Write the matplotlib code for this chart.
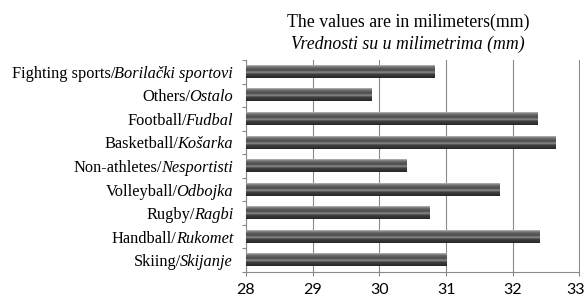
import numpy as np
import matplotlib
matplotlib.use("Agg")
import matplotlib.pyplot as plt
import matplotlib.transforms as mtransforms
from matplotlib.colors import LinearSegmentedColormap

labels_en = ["Fighting sports/", "Others/", "Football/", "Basketball/", "Non-athletes/",
             "Volleyball/", "Rugby/", "Handball/", "Skiing/"]
labels_sr = ["Borilački sportovi", "Ostalo", "Fudbal", "Košarka", "Nesportisti",
             "Odbojka", "Ragbi", "Rukomet", "Skijanje"]
values = [30.83, 29.88, 32.37, 32.64, 30.40, 31.80, 30.75, 32.40, 31.00]
xticks = [28, 29, 30, 31, 32, 33]

serif = "Liberation Serif"
sans = "Lato"

fig = plt.figure(figsize=(5.85, 3.01), dpi=100)
ax = fig.add_axes([246 / 585, 1 - 272 / 301, 333.5 / 585, 212 / 301])

# cylinder-like shading for the bars
shade = LinearSegmentedColormap.from_list(
    "bar", [(0.0, "#b8b8b8"), (0.15, "#6e6e6e"), (0.4, "#4a4a4a"),
            (0.56, "#8c8c8c"), (0.7, "#404040"), (1.0, "#262626")])
grad = np.linspace(0, 1, 64).reshape(-1, 1)
h = 0.52
for i, v in enumerate(values):
    ax.imshow(grad, cmap=shade, aspect="auto", origin="upper",
              extent=(xticks[0], v, i + h / 2, i - h / 2), zorder=3)

ax.set_xlim(xticks[0], xticks[-1])
ax.set_ylim(len(values) - 0.5, -0.5)

ax.set_xticks(xticks)
ax.set_xticklabels([str(t) for t in xticks], fontfamily=sans, fontsize=11.5)
ax.set_yticks(np.arange(-0.5, len(values), 1.0))
ax.set_yticklabels([])
ax.tick_params(axis="both", length=3, color="#888888", width=0.8)
ax.tick_params(axis="x", pad=5)
ax.grid(axis="x", color="#8a8a8a", linewidth=0.8, zorder=0)
ax.set_axisbelow(True)
for s in ["top", "right"]:
    ax.spines[s].set_visible(False)
for s in ["left", "bottom"]:
    ax.spines[s].set_color("#8a8a8a")
    ax.spines[s].set_linewidth(0.8)

# keep the last tick label inside the figure
last = ax.get_xticklabels()[-1]
last.set_transform(last.get_transform() +
                   mtransforms.ScaledTranslation(-4 / 100, 0, fig.dpi_scale_trans))

# two-part labels: roman English, italic Serbian
fig.canvas.draw()
renderer = fig.canvas.get_renderer()
for i in range(len(values)):
    it = ax.annotate(labels_sr[i], xy=(0, i), xycoords=("axes fraction", "data"),
                     xytext=(-13, 0), textcoords="offset pixels",
                     ha="right", va="center_baseline", fontfamily=serif,
                     fontstyle="italic", fontsize=11.8)
    w = it.get_window_extent(renderer).width
    ax.annotate(labels_en[i], xy=(0, i), xycoords=("axes fraction", "data"),
                xytext=(-13 - w + 1, 0), textcoords="offset pixels",
                ha="right", va="center_baseline", fontfamily=serif, fontsize=11.8)

fig.text(408 / 585, 1 - 22 / 301, "The values are in milimeters(mm)",
         ha="center", va="center", fontfamily=serif, fontsize=12.8)
fig.text(408 / 585, 1 - 44 / 301, "Vrednosti su u milimetrima (mm)",
         ha="center", va="center", fontfamily=serif, fontstyle="italic", fontsize=12.8)

fig.savefig("out.png", dpi=100)
